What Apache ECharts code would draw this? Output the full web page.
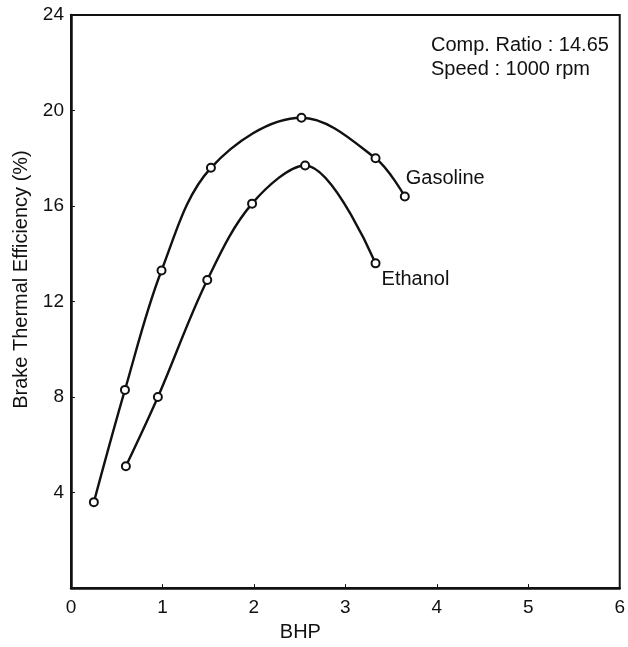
<!DOCTYPE html>
<html>
<head>
<meta charset="utf-8">
<script src="https://cdn.jsdelivr.net/npm/echarts@6/dist/echarts.min.js"></script>
<style>
  html, body { margin: 0; padding: 0; background: #fff; }
  #chart { width: 628px; height: 647px; }
</style>
</head>
<body>
<div id="chart"></div>
<script>
// values (BHP, efficiency %)
const gasolineBhp = [0.25, 0.59, 0.99, 1.53, 2.52, 3.33, 3.65];
const gasolineEff = [3.6, 8.3, 13.3, 17.6, 19.7, 18.0, 16.4];
const ethanolBhp = [0.60, 0.95, 1.49, 1.98, 2.56, 3.33];
const ethanolEff = [5.1, 8.0, 12.9, 16.1, 17.7, 13.6];
const xTicks = [0, 1, 2, 3, 4, 5, 6];
const yTicks = [0, 4, 8, 12, 16, 20, 24];

const font = 'Liberation Sans, Arial, sans-serif';
const pairs = (xs, ys) => xs.map((x, i) => [x, ys[i]]);

const chart = echarts.init(document.getElementById('chart'));

function lineSeries(name, data, label) {
  const last = data.length - 1;
  return {
    name,
    type: 'line',
    smooth: 0.35,
    symbol: 'circle',
    symbolSize: 8,
    itemStyle: { color: '#fff', borderColor: '#111', borderWidth: 2 },
    lineStyle: { color: '#111', width: 2.4 },
    data: data.map((d, i) => i === last ? { value: d, label } : d),
    z: 3
  };
}

chart.setOption({
  animation: false,
  backgroundColor: '#fff',
  grid: { left: 71, right: 8, top: 15, bottom: 52, show: true, borderColor: '#111', borderWidth: 2 },
  xAxis: {
    type: 'value',
    min: xTicks[0],
    max: xTicks[xTicks.length - 1],
    interval: 1,
    name: 'BHP',
    nameLocation: 'middle',
    nameGap: 31,
    nameTextStyle: { fontFamily: font, fontSize: 20, color: '#111', padding: [0, 90, 0, 0] },
    axisLine: { lineStyle: { color: '#111', width: 2.5 } },
    axisTick: { show: true, inside: true, length: 4, lineStyle: { color: '#111' } },
    axisLabel: { fontFamily: font, fontSize: 19, color: '#111', margin: 10 },
    splitLine: { show: false }
  },
  yAxis: {
    type: 'value',
    min: yTicks[0],
    max: yTicks[yTicks.length - 1],
    interval: 4,
    name: 'Brake Thermal Efficiency (%)',
    nameLocation: 'middle',
    nameGap: 36,
    nameTextStyle: { fontFamily: font, fontSize: 20, color: '#111', padding: [0, 0, 0, 44] },
    axisLine: { lineStyle: { color: '#111', width: 2.5 } },
    axisTick: { show: true, inside: true, length: 4, lineStyle: { color: '#111' } },
    axisLabel: { fontFamily: font, fontSize: 19, color: '#111', margin: 7, showMinLabel: false },
    splitLine: { show: false }
  },
  series: [
    lineSeries('Gasoline', pairs(gasolineBhp, gasolineEff), {
      show: true, formatter: 'Gasoline', position: 'right',
      offset: [-9, -18], fontFamily: font, fontSize: 20, color: '#111'
    }),
    lineSeries('Ethanol', pairs(ethanolBhp, ethanolEff), {
      show: true, formatter: 'Ethanol', position: 'right',
      offset: [-4, 16], fontFamily: font, fontSize: 20, color: '#111'
    })
  ],
  graphic: [
    {
      type: 'text', left: 431, top: 35,
      style: { text: 'Comp. Ratio : 14.65', font: '20px ' + font, fill: '#111' }
    },
    {
      type: 'text', left: 431, top: 59,
      style: { text: 'Speed : 1000 rpm', font: '20px ' + font, fill: '#111' }
    }
  ]
});
</script>
</body>
</html>
